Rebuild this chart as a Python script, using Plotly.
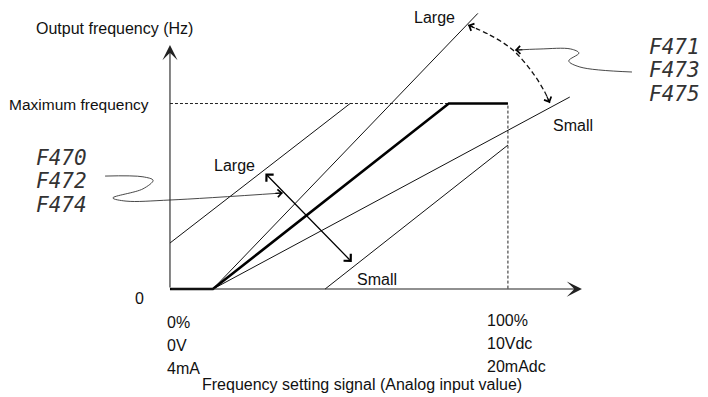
import math
import plotly.graph_objects as go

# The page body has an 8px margin, so the figure covers the window from (8, 8).
W, H = 700, 389
XR = [-47.93, 159.2]   # input signal, % of full scale
YR = [-58.2, 151.5]    # output frequency, % of maximum frequency

# ---- data (in % units) ----
thick_x = [0, 12.7, 82.5, 100]
thick_y = [0, 0, 100, 100]
steep_x = [12.7, 91.1]
steep_y = [0, 148.6]
low_x = [12.7, 118.3]
low_y = [0, 103.5]
upper_x = [0, 53.3]
upper_y = [24.8, 100]
lower_x = [45.9, 100]
lower_y = [0, 77.6]
maxf_x = [0, 100, 100]
maxf_y = [100, 100, 0]
xaxis_tip = [121.9, 0]
yaxis_tip = [0, 131.5]
dbl_start = [27.8, 63.1]
dbl_end = [53.8, 14.6]
arc_x = [88.2, 94.7, 101.5, 107.4, 110.9, 112.4]
arc_y = [142.3, 136.9, 128.8, 116.4, 106.2, 100.3]
wave1_x = [136.7, 121.3, 118.0, 121.0, 118.6, 109.5, 102.1]
wave1_y = [117.0, 119.7, 123.0, 127.2, 129.4, 129.4, 128.8]
wave2_x = [-19.2, -8.0, -5.0, -8.0, -16.9, -13.0, 0.0, 33.4]
wave2_y = [60.9, 60.5, 58.6, 54.0, 49.1, 47.4, 48.0, 51.8]

left_codes = ["F470", "F472", "F474"]
left_codes_pos = [(-32.2, 70.6), (-32.2, 58.2), (-32.2, 45.3)]
right_codes = ["F471", "F473", "F475"]
right_codes_pos = [(149.4, 130.5), (149.4, 118.1), (149.4, 105.1)]
left_ticks = ["0%", "0V", "4mA"]
left_ticks_pos = [(-1.5, -17.8), (-1.5, -30.2), (-1.5, -42.6)]
right_ticks = ["100%", "10Vdc", "20mAdc"]
right_ticks_pos = [(93.2, -16.7), (93.2, -29.1), (93.2, -41.5)]

SX = W / (XR[1] - XR[0])
SY = H / (YR[1] - YR[0])

fig = go.Figure()

def line(xs, ys, width=1, color="#111", dash=None, shape="linear"):
    fig.add_trace(go.Scatter(x=xs, y=ys, mode="lines", hoverinfo="skip",
                             line=dict(width=width, color=color, dash=dash, shape=shape)))

line(maxf_x, maxf_y, width=1, color="#222", dash="3px,2px")
line(steep_x, steep_y)
line(low_x, low_y)
line(upper_x, upper_y)
line(lower_x, lower_y)
line(arc_x, arc_y, width=1.3, color="#111", dash="5px,3px", shape="spline")
line(wave1_x, wave1_y, width=0.9, color="#333", shape="spline")
line(wave2_x, wave2_y, width=0.9, color="#333", shape="spline")

# axes as arrows
for tip in (xaxis_tip, yaxis_tip):
    fig.add_annotation(x=tip[0], y=tip[1], ax=0, ay=0, axref="x", ayref="y",
                       xref="x", yref="y", text="", showarrow=True,
                       arrowhead=3, arrowsize=2.3, arrowwidth=1.1, arrowcolor="#222")

line(thick_x, thick_y, width=2.6, color="#000")

# double arrow
fig.add_annotation(x=dbl_end[0], y=dbl_end[1], ax=dbl_start[0], ay=dbl_start[1],
                   axref="x", ayref="y", xref="x", yref="y", text="", showarrow=True,
                   arrowhead=4, arrowsize=1.5, arrowwidth=1.3, arrowcolor="#000",
                   arrowside="end+start", startarrowhead=4, startarrowsize=1.5)

def head(tx, ty, px_, py_, L=9, size=1.4, width=1.1):
    dx = (px_ - tx) * SX
    dy = -(py_ - ty) * SY
    n = math.hypot(dx, dy)
    fig.add_annotation(x=tx, y=ty, ax=dx / n * L, ay=dy / n * L, xref="x", yref="y",
                       text="", showarrow=True, arrowhead=4, arrowsize=size,
                       arrowwidth=width, arrowcolor="#000")

head(arc_x[0], arc_y[0], arc_x[1], arc_y[1])
head(arc_x[-1], arc_y[-1], arc_x[-2], arc_y[-2])
head(wave1_x[-1], wave1_y[-1], wave1_x[-2], wave1_y[-2])
head(wave2_x[-1], wave2_y[-1], wave2_x[-2], wave2_y[-2])

FONT = dict(family="Liberation Sans, Arial, sans-serif", size=16, color="#111")

def text(t, x, y, xanchor="center", font=FONT):
    fig.add_annotation(x=x, y=y, text=t, showarrow=False, xref="x", yref="y",
                       xanchor=xanchor, yanchor="middle", font=font)

text("Output frequency (Hz)", -16.3, 140.7)
text("Maximum frequency", -5.7, 99.7, xanchor="right", font=dict(FONT, size=15.5))
text("Large", 78.4, 146.6)
text("Small", 119.2, 87.9)
text("Large", 19.2, 66.8)
text("Small", 61.2, 4.9)
text("0", -8.9, -4.9)
for t, (x, y) in zip(left_ticks, left_ticks_pos):
    text(t, x, y, xanchor="left")
for t, (x, y) in zip(right_ticks, right_ticks_pos):
    text(t, x, y, xanchor="left")
text("Frequency setting signal (Analog input value)", 56.8, -51.2)

SEG = dict(family="DejaVu Sans Mono, monospace", size=21, color="#333", style="italic")
for t, (x, y) in zip(left_codes, left_codes_pos):
    text(t, x, y, font=SEG)
for t, (x, y) in zip(right_codes, right_codes_pos):
    text(t, x, y, font=SEG)

fig.update_layout(width=W, height=H, margin=dict(l=0, r=0, t=0, b=0),
                  paper_bgcolor="white", plot_bgcolor="white", showlegend=False,
                  xaxis=dict(range=XR, visible=False, fixedrange=True),
                  yaxis=dict(range=YR, visible=False, fixedrange=True))

fig.write_html("out.html")
